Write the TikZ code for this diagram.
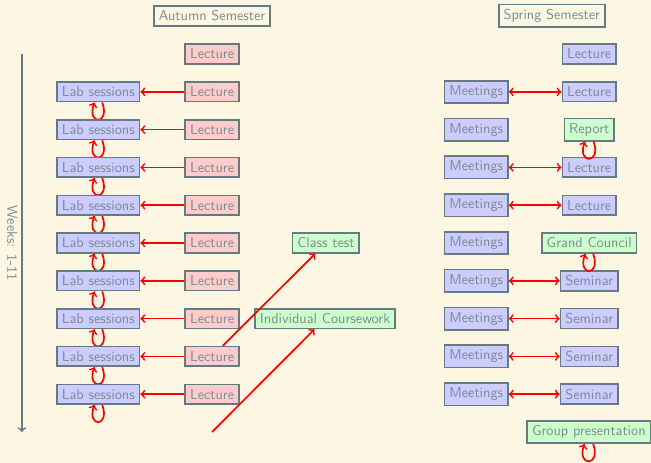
\documentclass[tikz,border=0pt]{standalone}
\usepackage{fontspec}
\definecolor{paper}{HTML}{FDF6E3}
\definecolor{frame}{HTML}{657B83}
\definecolor{ink}{HTML}{7B8C92}

\begin{document}
\begin{tikzpicture}[
    box/.style={draw=frame, very thick, text=ink, font=\sffamily},
    lab/.style={box, fill=blue!20},
    lect/.style={box, fill=red!20},
    task/.style={box, fill=green!20},
    link/.style={red, very thick, ->},
    turn/.style={link, loop, out=-70, in=-110, min distance=6mm}
  ]
  \fill[paper] (0,0) rectangle (16.02,-11.39);
  \useasboundingbox (0,0) rectangle (16.02,-11.39);

  % weeks axis
  \coordinate (top) at (0.54,-1.33);
  \coordinate (bottom) at (0.54,-10.63);
  \draw[frame, very thick, ->] (top) -- (bottom);
  \node[text=ink, font=\sffamily, rotate=-90] (weeks) at (0.30,-5.98) {Weeks: 1-11};

  % autumn
  \node[box] (autumn) at (5.22,-0.39) {Autumn Semester};
  \node[lect] (lect1) at (5.22,-1.33) {Lecture};
  \foreach \k in {2,...,10} {
    \node[lect] (lect\k) at (5.22,{-1.33-(\k-1)*0.93}) {Lecture};
    \node[lab] (lab\k) at (2.42,{-1.33-(\k-1)*0.93}) {Lab sessions};
    \draw[link] (lect\k) -- (lab\k);
    \draw[turn] (lab\k) to (lab\k);
  }
  \coordinate (end) at (5.22,-10.63);
  \node[task] (test) at (8.02,-5.98) {Class test};
  \node[task] (cw) at (8.00,-7.84) {Individual Coursework};
  \draw[link] (lect9) -- (test);
  \draw[link] (end) -- (cw);

  % spring
  \node[box] (spring) at (13.58,-0.39) {Spring Semester};
  \node[lab] (sp1) at (14.50,-1.33) {Lecture};
  \foreach \k/\what/\kind in {2/Lecture/lab, 3/Report/task, 4/Lecture/lab,
      5/Lecture/lab, 6/Grand Council/task, 7/Seminar/lab, 8/Seminar/lab,
      9/Seminar/lab, 10/Seminar/lab} {
    \node[lab] (meet\k) at (11.72,{-1.33-(\k-1)*0.93}) {Meetings};
    \node[\kind] (sp\k) at (14.50,{-1.33-(\k-1)*0.93}) {\what};
  }
  \node[task] (group) at (14.49,-10.63) {Group presentation};
  \foreach \k in {2,4,5,7,8,9,10}
    \draw[link, <->] (meet\k) -- (sp\k);
  \draw[turn] (sp3) to (sp3);
  \draw[turn] (sp6) to (sp6);
  \draw[turn] (group) to (group);
\end{tikzpicture}
\end{document}
